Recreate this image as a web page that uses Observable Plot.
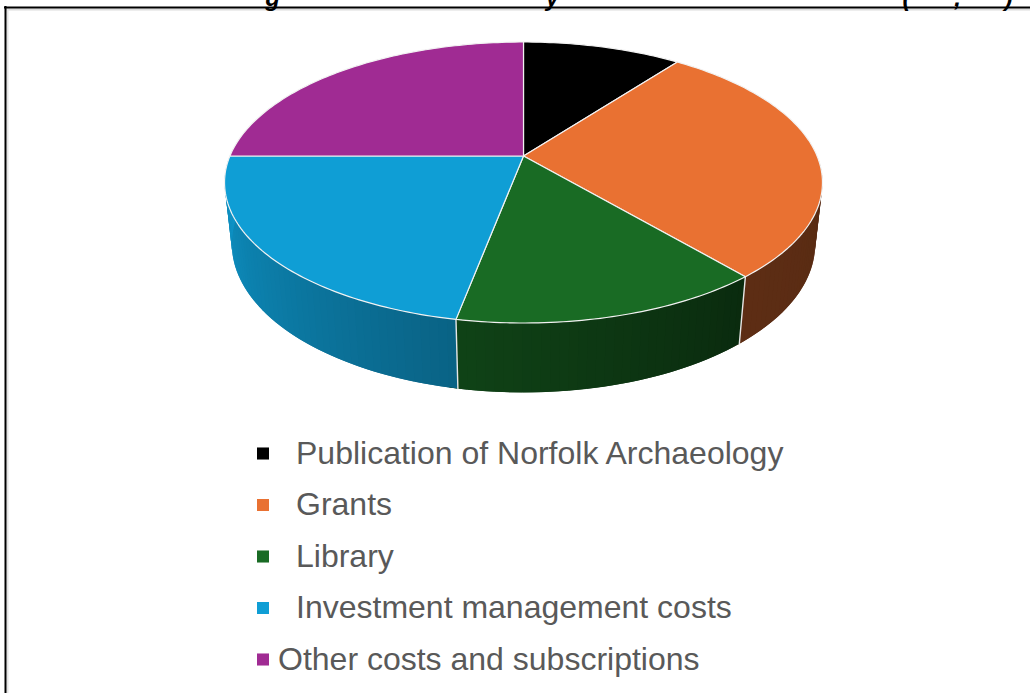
<!DOCTYPE html>
<html>
<head>
<meta charset="utf-8">
<script src="https://cdn.jsdelivr.net/npm/d3@7"></script>
<script src="https://cdn.jsdelivr.net/npm/@observablehq/plot@0.6"></script>
<style>
html,body{margin:0;padding:0;background:#fff;overflow:hidden}
svg{display:block}
</style>
</head>
<body>
<div id="chart"></div>
<script>
const categories = ["Publication of Norfolk Archaeology", "Grants", "Library", "Investment management costs", "Other costs and subscriptions"];
const shares = [10.3, 28.5, 14.2, 22, 25];
const colors = ["#000000", "#e97132", "#196b24", "#0f9ed5", "#a02b93"];
const labelIndent = [295.5, 295.5, 295.5, 295.5, 277.5];
const titleFragments = ["g", "y", "(", ",", ")"];
const titleFragmentX = [272, 552, 906, 957, 1008];

// Perspective view of a tilted disc (pixel space of the plot's x and y scales)
const cx = 523, cy = 155.5, a = 293.6, b = 135.5, k = 0.1886, hd = 0.024, drop = 62;
const project = (deg, r, lower) => {
  const t = deg * Math.PI / 180, X = r * Math.sin(t), Y = r * Math.cos(t);
  const w = 1 + k * Y + (lower ? hd : 0);
  return {x: cx + a * X / w, y: cy + ((lower ? drop : 0) - b * Y) / w};
};

const total = d3.sum(shares);
let run = 0;
const slices = categories.map((name, i) => {
  const start = run / total * 360;
  run += shares[i];
  return {name, i, start, end: run / total * 360};
});

const topFace = slices.flatMap(s => {
  const pts = [{...project(0, 0, false), name: s.name}];
  for (const t of [...d3.range(s.start, s.end, 1), s.end]) pts.push({...project(t, 1, false), name: s.name});
  pts.push({...project(0, 0, false), name: s.name});
  return pts;
});

const shade = d3.scaleLinear().domain([100, 140, 190, 228, 265]).range([0.38, 0.40, 0.62, 0.78, 0.92]);
const strips = slices.flatMap(s => {
  const lo = Math.max(s.start, 92), hi = Math.min(s.end, 268);
  if (hi <= lo) return [];
  const cuts = [...d3.range(lo, hi, 1.5), hi];
  return d3.pairs(cuts).flatMap(([p, q], j) => {
    const c = d3.rgb(colors[s.i]), f = shade((p + q) / 2);
    const col = d3.rgb(c.r * f, c.g * f, c.b * f).formatHex();
    const id = s.name + j;
    const q2 = Math.min(q + 1.5, 268);
    return [project(p, 1, false), project(q2, 1, false), project(q2, 1, true), project(p, 1, true)]
      .map(pt => ({...pt, id, col}));
  });
});

const seams = [slices[1], slices[2]].flatMap(s => [project(s.end, 1, false), project(s.end, 1, true)].map(p => ({...p, id: s.name})));

const legendRow = (name) => categories.indexOf(name);
const legendY = i => 453 + i * 51.5;

const chart = Plot.plot({
  width: 1030,
  height: 693,
  margin: 0,
  x: {domain: [0, 1030], range: [0, 1030], axis: null},
  y: {domain: [0, 693], range: [0, 693], axis: null},
  color: {domain: categories, range: colors},
  marks: [
    Plot.ruleY([9], {x1: 6, x2: 1030, stroke: "#dcdcdc", strokeWidth: 2}),
    Plot.ruleX([7], {y1: 8, y2: 693, stroke: "#e4e4e4", strokeWidth: 2}),
    Plot.ruleY([7], {x1: 4, x2: 1030, stroke: "#000", strokeWidth: 2}),
    Plot.ruleX([5], {y1: 6, y2: 693, stroke: "#000", strokeWidth: 2}),
    Plot.text(titleFragments, {
      x: (d, i) => titleFragmentX[i], y: () => 0, text: d => d,
      fontFamily: "Liberation Sans", fontWeight: "bold", fontStyle: "italic", fontSize: 24,
      lineAnchor: "bottom", dy: 5, fill: "#000"
    }),
    Plot.line(strips, {x: "x", y: "y", z: "id", fill: {value: "col", scale: null}, strokeWidth: 0}),
    Plot.line(seams, {x: "x", y: "y", z: "id", stroke: "#e6e6e6", strokeWidth: 1.4}),
    Plot.line(topFace, {x: "x", y: "y", z: "name", fill: "name", stroke: "#f2f2f2", strokeWidth: 1.2}),
    Plot.dot(categories, {
      x: () => 262.5, y: d => legendY(legendRow(d)), fill: d => d, symbol: "square", r: 6.8, stroke: "none"
    }),
    Plot.text(categories, {
      x: d => labelIndent[legendRow(d)], y: d => legendY(legendRow(d)), text: d => d,
      textAnchor: "start", lineAnchor: "middle", fill: "#595959",
      fontFamily: "Liberation Sans", fontSize: 32
    })
  ]
});
document.getElementById("chart").append(chart);
</script>
</body>
</html>
